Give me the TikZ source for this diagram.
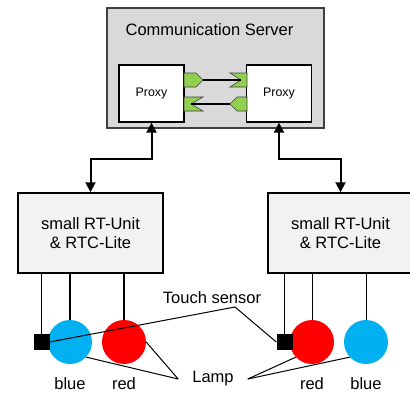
\documentclass[tikz,border=0pt]{standalone}
\usepackage{fontspec}
\setmainfont{Liberation Sans}
\usetikzlibrary{arrows.meta, positioning}
\definecolor{srvgray}{RGB}{217,217,217}
\definecolor{unitgray}{RGB}{242,242,242}
\definecolor{srvframe}{RGB}{64,64,64}
\definecolor{portgreen}{RGB}{146,208,80}
\definecolor{lampblue}{RGB}{0,176,240}
\definecolor{lampred}{RGB}{255,0,0}
\tikzset{
  server/.style={rectangle, draw=srvframe, fill=srvgray,
    minimum width=217pt, minimum height=120pt, line width=1.5pt},
  proxy/.style={rectangle, draw=black, fill=white,
    minimum width=65pt, minimum height=57pt, line width=1.3pt,
    font=\fontsize{12.4}{14}\selectfont},
  unitbox/.style={rectangle, draw=black, fill=unitgray, align=center,
    minimum width=145pt, minimum height=80pt, line width=1.5pt,
    font=\fontsize{16.5}{19}\selectfont},
  lamp/.style={circle, inner sep=0pt, minimum size=44pt},
  sensor/.style={rectangle, fill=black, inner sep=0pt, minimum size=16pt},
  port/.style={fill=portgreen, draw=srvframe, line width=0.6pt},
  link/.style={{Triangle[length=10pt,width=10pt]}-{Triangle[length=10pt,width=10pt]}, line width=2pt},
  wire/.style={line width=1pt},
  thickwire/.style={line width=2pt},
  txt/.style={font=\fontsize{16.5}{19}\selectfont, inner sep=0pt}
}
\begin{document}
\begin{tikzpicture}[x=1pt, y=-1pt]
  \useasboundingbox (0,0) rectangle (410,397);

  % Communication server with its two proxies
  \node[server] (server) at (215.5,68) {};
  \node[txt] (srvTitle) at (209.5,29.5) {Communication Server};
  \node[proxy] (proxyL) at (151.5,93.5) {Proxy};
  \node[proxy] (proxyR) at (279,93.5) {Proxy};

  % Ports on the left proxy
  \filldraw[port] (184,73) -- (196,73) -- (203,80) -- (196,87) -- (184,87) -- cycle;
  \filldraw[port] (184,97) -- (203,97) -- (191,104) -- (203,111) -- (184,111) -- cycle;
  % Ports on the right proxy
  \filldraw[port] (247,73) -- (230,73) -- (241,80) -- (230,87) -- (247,87) -- cycle;
  \filldraw[port] (247,97) -- (237,97) -- (230,104) -- (237,111) -- (247,111) -- cycle;
  \coordinate (outL) at (203,80);
  \coordinate (inR) at (241,80);
  \coordinate (inL) at (191,104);
  \coordinate (outR) at (230,104);
  \draw[thickwire] (outL) -- (inR);
  \draw[thickwire] (outR) -- (inL);

  % RT units
  \node[unitbox] (unitL) at (90.5,233) {small RT-Unit\\\& RTC-Lite};
  \node[unitbox] (unitR) at (340.5,233) {small RT-Unit\\\& RTC-Lite};

  % Links between proxies and units
  \draw[link] (proxyL.south) -- ++(0,36) -| (unitL.north);
  \draw[link] (proxyR.south) -- ++(0,36) -| (unitR.north);

  % Lamps and touch sensors
  \node[lamp, fill=lampblue] (blueL) at (70,342) {};
  \node[lamp, fill=lampred] (redL) at (124,342) {};
  \node[lamp, fill=lampred] (redR) at (312,342) {};
  \node[lamp, fill=lampblue] (blueR) at (366,342) {};
  \node[sensor] (sensL) at (41.5,342) {};
  \node[sensor] (sensR) at (284.5,342) {};

  % Wires from the units
  \draw[wire] (sensL.north) -- (sensL.north |- unitL.south);
  \draw[thickwire] (blueL.north) -- (blueL.north |- unitL.south);
  \draw[thickwire] (redL.north) -- (redL.north |- unitL.south);
  \draw[wire] (sensR.north) -- (sensR.north |- unitR.south);
  \draw[wire] (redR.north) -- (redR.north |- unitR.south);
  \draw[wire] (blueR.north) -- (blueR.north |- unitR.south);

  % Colour labels
  \node[txt] (lblBlueL) at (70,384) {blue};
  \node[txt] (lblRedL) at (124,384) {red};
  \node[txt] (lblRedR) at (312,384) {red};
  \node[txt] (lblBlueR) at (366,384) {blue};

  % Callouts
  \node[txt] (tsLabel) at (212,298) {Touch sensor};
  \coordinate (tsJoin) at (235,307);
  \draw[wire] (sensL.east) -- (tsJoin) -- (sensR.west);
  \node[txt, inner xsep=14pt] (lampLabel) at (213,379) {Lamp};
  \draw[wire] (lampLabel.west) -- (blueL.-43);
  \draw[wire] (lampLabel.west) -- (redL.east);
  \draw[wire] (lampLabel.east) -- (redR.-137);
  \draw[wire] (lampLabel.east) -- (blueR.-137);
\end{tikzpicture}
\end{document}
